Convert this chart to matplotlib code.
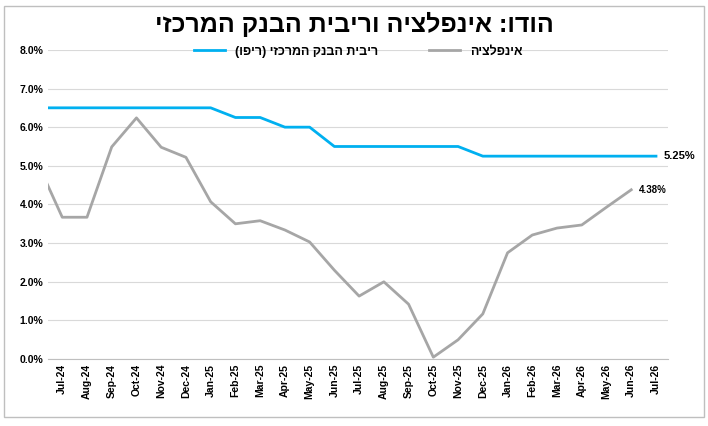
import matplotlib
matplotlib.use("Agg")
import matplotlib.pyplot as plt
from matplotlib.patches import Rectangle

plt.rcParams['font.family'] = ['Liberation Sans', 'DejaVu Sans']


def rtl(s):
    # reverse Hebrew text for left-to-right drawing, mirror brackets
    swap = {'(': ')', ')': '('}
    return ''.join(swap.get(c, c) for c in s[::-1])


months = ['Jun-24', 'Jul-24', 'Aug-24', 'Sep-24', 'Oct-24', 'Nov-24', 'Dec-24',
          'Jan-25', 'Feb-25', 'Mar-25', 'Apr-25', 'May-25', 'Jun-25', 'Jul-25',
          'Aug-25', 'Sep-25', 'Oct-25', 'Nov-25', 'Dec-25', 'Jan-26', 'Feb-26',
          'Mar-26', 'Apr-26', 'May-26', 'Jun-26', 'Jul-26']
repo = [6.5, 6.5, 6.5, 6.5, 6.5, 6.5, 6.5, 6.5, 6.25, 6.25, 6.0, 6.0, 5.5, 5.5,
        5.5, 5.5, 5.5, 5.5, 5.25, 5.25, 5.25, 5.25, 5.25, 5.25, 5.25, 5.25]
inflation = [5.08, 3.67, 3.67, 5.49, 6.24, 5.48, 5.22, 4.07, 3.50, 3.58, 3.34,
             3.03, 2.30, 1.63, 2.00, 1.42, 0.05, 0.50, 1.17, 2.75, 3.21, 3.39,
             3.47, 3.93, 4.38]

fig = plt.figure(figsize=(7.08, 4.26), dpi=100)
fig.patches.append(Rectangle((0.006, 0.02), 0.988, 0.965, transform=fig.transFigure,
                             fill=False, edgecolor='#bfbfbf', lw=1))
ax = fig.add_axes([0.068, 0.157, 0.876, 0.726])

x = list(range(-1, len(months) - 1))
ax.plot(x, repo, color='#00b0f0', lw=2, label=rtl('ריבית הבנק המרכזי (ריפו)'))
ax.plot(x[:len(inflation)], inflation, color='#a6a6a6', lw=2, label=rtl('אינפלציה'))

ax.set_xlim(-0.57, 24.5)
ax.set_ylim(0, 8)
ax.set_yticks(range(0, 9))
ax.set_yticklabels([f'{v:.1f}%' for v in range(0, 9)], fontsize=7.5, fontweight='bold')
ax.set_xticks(x[1:])
ax.set_xticklabels(months[1:], rotation=90, fontsize=7.5, fontweight='bold')
ax.tick_params(length=0)
ax.grid(axis='y', color='#d9d9d9', lw=0.8)
ax.set_axisbelow(True)
for s in ['top', 'right', 'left']:
    ax.spines[s].set_visible(False)
ax.spines['bottom'].set_color('#bfbfbf')

ax.text(x[-1] + 0.3, repo[-1], '5.25%', fontsize=8, fontweight='bold', va='center')
ax.text(x[len(inflation) - 1] + 0.3, inflation[-1], '4.38%', fontsize=7, fontweight='bold',
        va='center')

ax.legend(loc='upper center', bbox_to_anchor=(0.5, 1.05), ncol=2, frameon=False,
          prop={'weight': 'bold', 'size': 9}, columnspacing=4, handlelength=2.5)

fig.text(0.5, 0.925, rtl('הודו: אינפלציה וריבית הבנק המרכזי'), ha='center',
         fontsize=18, fontweight='bold')

fig.savefig('out.png')
